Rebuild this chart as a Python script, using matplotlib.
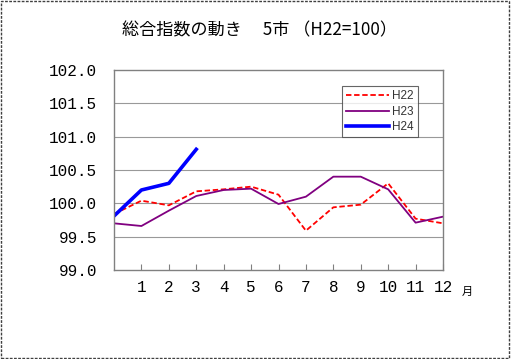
import matplotlib
matplotlib.use("Agg")
import matplotlib.pyplot as plt
from matplotlib.patches import Rectangle

months = list(range(0, 13))
tick_months = list(range(1, 13))
tick_labels = [str(m) for m in tick_months]

h22 = [99.84, 100.04, 99.97, 100.18, 100.21, 100.25, 100.13, 99.59, 99.94, 99.98, 100.30, 99.77, 99.70]
h23 = [99.70, 99.66, 99.89, 100.11, 100.20, 100.22, 99.99, 100.10, 100.40, 100.40, 100.21, 99.71, 99.80]
h24 = [99.81, 100.20, 100.30, 100.81]

yticks = [99.0, 99.5, 100.0, 100.5, 101.0, 101.5, 102.0]

title = "総合指数の動き　 5市 （H22=100）"

plt.rcParams['font.family'] = ['Noto Sans CJK JP', 'DejaVu Sans']

fig = plt.figure(figsize=(5.11, 3.59), dpi=100)
fig.patch.set_facecolor('white')
ax = fig.add_axes([114/511, 1-270/359, (443-114)/511, (270-70)/359])

ax.plot(months, h22, color='#ff0000', linestyle=(0, (3, 1.5)), linewidth=1.3, label='H22')
ax.plot(months, h23, color='#800080', linewidth=1.3, label='H23')
ax.plot(months[:len(h24)], h24, color='#0000ff', linewidth=2.6, label='H24')

ax.set_xlim(0, 12)
ax.set_ylim(99.0, 102.0)
ax.set_yticks(yticks)
ax.set_yticklabels([f"{v:.1f}" for v in yticks], family='Liberation Mono', fontsize=11.5)
ax.set_xticks(tick_months)
ax.set_xticklabels(tick_labels, family='Liberation Mono', fontsize=11.5)
ax.tick_params(axis='x', direction='in', length=4, color='#808080', pad=7)
ax.tick_params(axis='y', length=0, pad=12)
for y in yticks[1:-1]:
    ax.axhline(y, color='#999999', linewidth=0.8, zorder=0)
for s in ax.spines.values():
    s.set_color('#808080')
    s.set_linewidth(1.0)

fig.text(467/511, 1-292/359, '月', fontsize=8, ha='center', va='center')

leg = ax.legend(loc='upper left', bbox_to_anchor=((342-114)/329, 1-(86-70)/200),
                borderaxespad=0, frameon=True, fancybox=False, borderpad=0.35,
                handlelength=3.6, handletextpad=0.3, labelspacing=0.3,
                prop={'family': 'Liberation Sans', 'size': 8.5})
leg.get_frame().set_edgecolor('#404040')
leg.get_frame().set_linewidth(0.8)
for t in leg.get_texts():
    t.set_color('#333333')

fig.text(259.5/511, 1-30/359, title, ha='center', va='center', fontsize=12.3)

fig.patches.append(Rectangle((0.002, 0.004), 0.994, 0.992, transform=fig.transFigure,
                             fill=False, edgecolor='#404040', linewidth=1.0,
                             linestyle=(0, (2, 1))))

fig.savefig('out.png', dpi=100, facecolor='white')
